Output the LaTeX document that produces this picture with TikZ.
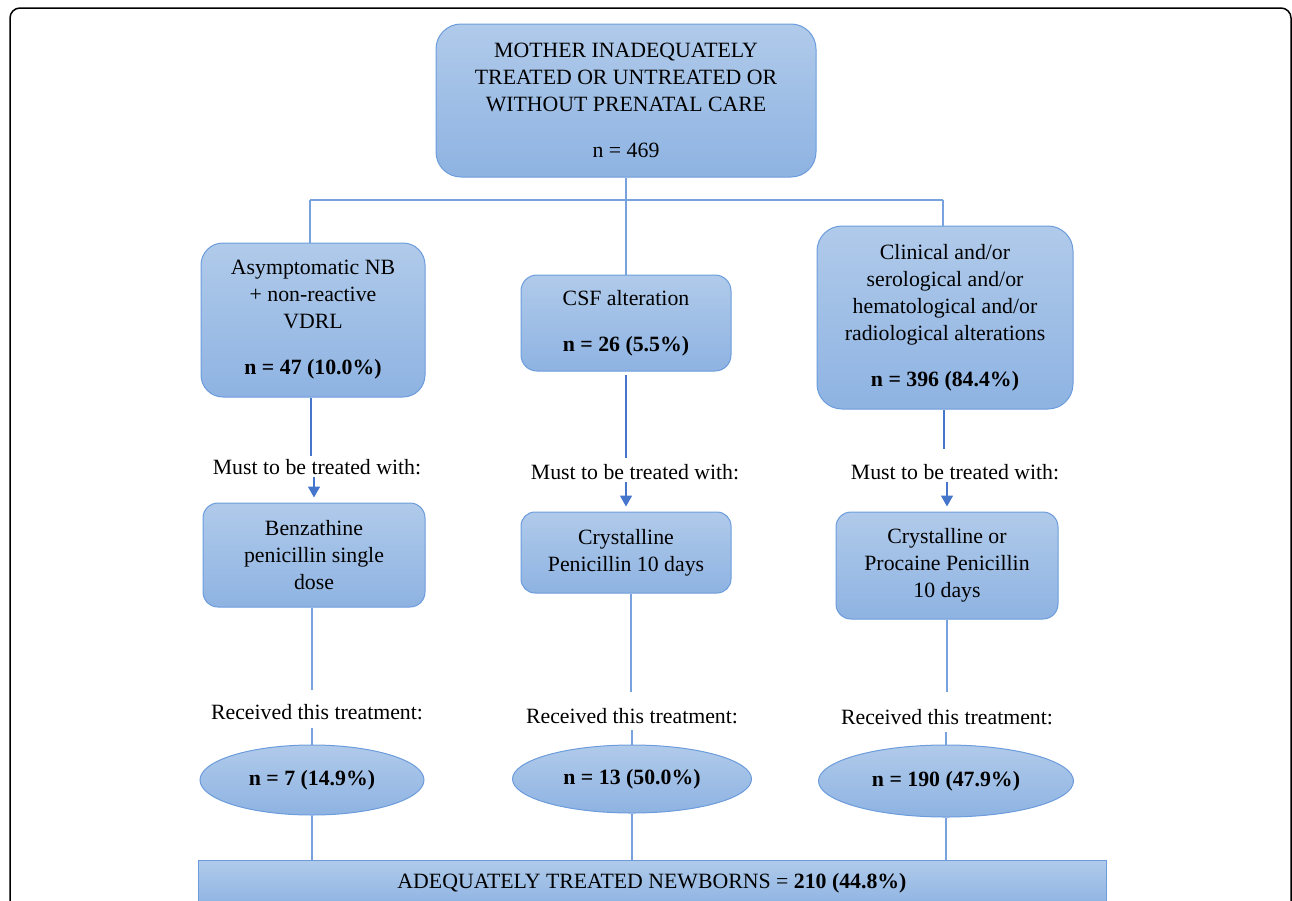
\documentclass[tikz,border=0pt]{standalone}
\usepackage{fontspec}
\setmainfont{Liberation Serif}
\usetikzlibrary{arrows.meta,shapes.geometric}

\definecolor{boxtop}{RGB}{176,202,234}
\definecolor{boxbot}{RGB}{142,179,226}
\definecolor{boxline}{RGB}{108,156,220}
\definecolor{thinline}{RGB}{120,162,222}
\definecolor{thickline}{RGB}{70,118,204}

\begin{document}
\begin{tikzpicture}[x=1pt,y=1pt,
	font=\fontsize{21.8}{27}\selectfont,
	bluebox/.style={draw=boxline, line width=1pt, top color=boxtop, bottom color=boxbot,
		rounded corners=18pt, align=center, inner sep=0pt},
	blueoval/.style={ellipse, draw=boxline, line width=1pt, top color=boxtop, bottom color=boxbot,
		inner sep=0pt},
	thinlink/.style={draw=thinline, line width=1.2pt},
	thicklink/.style={draw=thickline, line width=2.2pt},
	tiplink/.style={draw=thickline, line width=1.5pt, -{Triangle[width=12pt,length=11pt]}, shorten >=5pt},
	caption/.style={inner sep=2pt}
]
	\useasboundingbox (0,0) rectangle (1292,-900);
	\draw[line width=1.5pt, rounded corners=10pt] (10,-8) rectangle (1291,-960);

	% first row
	\node[bluebox, minimum width=380pt, minimum height=153pt, rounded corners=25pt] (mother) at (626,-100.5)
		{MOTHER INADEQUATELY\\ TREATED OR UNTREATED OR\\ WITHOUT PRENATAL CARE\\[19pt] n = 469};

	% second row
	\node[bluebox, minimum width=224pt, minimum height=154pt, rounded corners=22pt] (asym) at (313,-320)
		{Asymptomatic NB\\ + non-reactive\\ VDRL\\[19pt] \textbf{n = 47 (10.0\%)}};
	\node[bluebox, minimum width=210pt, minimum height=96pt, rounded corners=16pt] (csf) at (626,-323)
		{CSF alteration\\[19pt] \textbf{n = 26 (5.5\%)}};
	\node[bluebox, minimum width=256pt, minimum height=183pt, rounded corners=25pt] (clin) at (945,-317.5)
		{Clinical and/or\\ serological and/or\\ hematological and/or\\ radiological alterations\\[19pt] \textbf{n = 396 (84.4\%)}};

	\coordinate (split) at (626,-200);
	\draw[thinlink] (mother.south) -- (split);
	\draw[thinlink] (310,-200) -- (943,-200);
	\draw[thinlink] (310,-200) -- (asym.north -| 310,0);
	\draw[thinlink] (split) -- (csf.north);
	\draw[thinlink] (943,-200) -- (clin.north -| 943,0);

	% must to be treated with
	\node[caption] (must1) at (317,-467) {Must to be treated with:};
	\node[caption] (must2) at (635,-472) {Must to be treated with:};
	\node[caption] (must3) at (955,-472) {Must to be treated with:};

	\node[bluebox, minimum width=222pt, minimum height=104pt, rounded corners=15pt] (benz) at (314,-555)
		{Benzathine\\ penicillin single\\ dose};
	\node[bluebox, minimum width=210pt, minimum height=81pt, rounded corners=14pt] (crys) at (626,-552.5)
		{Crystalline\\ Penicillin 10 days};
	\node[bluebox, minimum width=222pt, minimum height=107pt, rounded corners=15pt] (proc) at (947,-565.5)
		{Crystalline or\\ Procaine Penicillin\\ 10 days};

	\draw[thicklink] (asym.south -| 311,0) -- (311,-456);
	\draw[thicklink] (626,-375) -- (626,-458);
	\draw[thicklink] (clin.south -| 944,0) -- (944,-449);
	\draw[tiplink] (must1.south -| benz.north) -- (benz.north);
	\draw[tiplink] (must2.south -| crys.north) -- (crys.north);
	\draw[tiplink] (must3.south -| proc.north) -- (proc.north);

	% received this treatment
	\node[caption] (rec1) at (317,-712) {Received this treatment:};
	\node[caption] (rec2) at (632,-716) {Received this treatment:};
	\node[caption] (rec3) at (947,-717) {Received this treatment:};

	\node[blueoval, minimum width=224pt, minimum height=70pt] (got1) at (312,-780) {\textbf{n = 7 (14.9\%)}};
	\node[blueoval, minimum width=239pt, minimum height=68pt] (got2) at (632,-779) {\textbf{n = 13 (50.0\%)}};
	\node[blueoval, minimum width=255pt, minimum height=72pt] (got3) at (946,-781) {\textbf{n = 190 (47.9\%)}};

	\draw[thinlink] (benz.south -| 312,0) -- (312,-690);
	\draw[thinlink] (crys.south -| 631,0) -- (631,-692);
	\draw[thinlink] (proc.south -| 947,0) -- (947,-692);
	\draw[thinlink] (312,-728) -- (got1.north);
	\draw[thinlink] (632,-730) -- (got2.north);
	\draw[thinlink] (946,-732) -- (got3.north);

	% total
	\node[bluebox, rounded corners=0pt, minimum width=908pt, minimum height=46pt] (total) at (652,-883)
		{ADEQUATELY TREATED NEWBORNS = \textbf{210 (44.8\%)}};
	\draw[thinlink] (got1.south) -- (got1.south |- total.north);
	\draw[thinlink] (got2.south) -- (got2.south |- total.north);
	\draw[thinlink] (got3.south) -- (got3.south |- total.north);
\end{tikzpicture}
\end{document}
